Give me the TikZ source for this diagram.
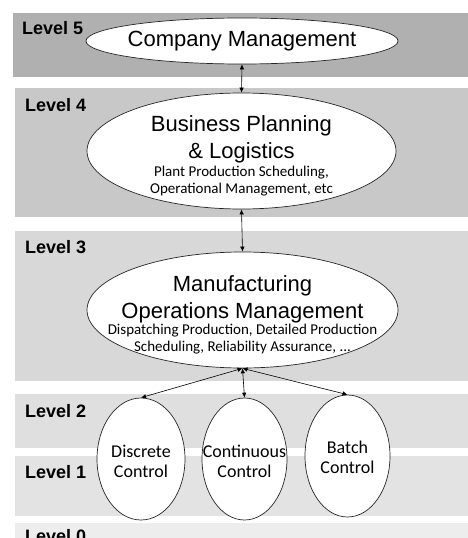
\documentclass[tikz,border=0pt]{standalone}
\usepackage{fontspec}
\setmainfont{Liberation Sans}
\newfontfamily\calfont{Carlito}
\usetikzlibrary{shapes.geometric,arrows.meta}
\definecolor{bandfive}{HTML}{B0B0B0}
\definecolor{bandfour}{HTML}{C8C8C8}
\definecolor{bandthree}{HTML}{D8D8D8}
\definecolor{bandtwo}{HTML}{DFDFDF}
\definecolor{bandone}{HTML}{E3E3E3}
\definecolor{bandzero}{HTML}{EDEDED}
\begin{document}
\begin{tikzpicture}[x=1pt,y=-1pt,
        level/.style={anchor=base west,inner sep=0pt,font=\fontsize{18}{20}\selectfont\bfseries},
        oval/.style={ellipse,draw=black!85,line width=0.7pt,fill=white,inner sep=0pt},
        title/.style={align=center,inner sep=0pt,font=\fontsize{22}{27}\selectfont},
        note/.style={align=center,inner sep=0pt,font=\calfont\fontsize{15}{16.5}\selectfont},
        ctrl/.style={align=center,inner sep=0pt,font=\calfont\fontsize{18}{20}\selectfont},
        link/.style={{Latex[length=5pt,width=4.5pt]}-{Latex[length=5pt,width=4.5pt]},line width=0.6pt}]
        \useasboundingbox (0,0) rectangle (468,538);
        \clip (0,0) rectangle (468,538);
        \fill[bandfive] (13,13) rectangle (468,77);
        \fill[bandfour] (15,88) rectangle (468,217);
        \fill[bandthree] (15,231) rectangle (468,381);
        \fill[bandtwo] (15,394) rectangle (468,448);
        \fill[bandone] (15,456) rectangle (468,516);
        \fill[bandzero] (15,523) rectangle (468,560);
        \node[level] (lvlfive) at (22,34) {Level 5};
        \node[level] (lvlfour) at (25,111) {Level 4};
        \node[level] (lvlthree) at (25,253) {Level 3};
        \node[level] (lvltwo) at (25,417) {Level 2};
        \node[level] (lvlone) at (25,478) {Level 1};
        \node[level] (lvlzero) at (25,542) {Level 0};
        \node[oval,minimum width=312pt,minimum height=46pt] (company) at (242,41) {};
        \node[oval,minimum width=309pt,minimum height=116pt] (business) at (241.5,151) {};
        \node[oval,minimum width=311pt,minimum height=116pt] (mom) at (242.5,310) {};
        \node[oval,minimum width=88pt,minimum height=122pt] (discrete) at (141,459) {};
        \node[oval,minimum width=85pt,minimum height=122pt] (continuous) at (244.5,459) {};
        \node[oval,minimum width=85pt,minimum height=122pt] (batch) at (347.5,456) {};
        \node[title] (companytxt) at (242,41) {Company Management};
        \node[title] (businesstxt) at (241.5,139.3) {Business Planning\\ \& Logistics};
        \node[note] (businessnote) at (241.5,181.2) {Plant Production Scheduling,\\ Operational Management, etc};
        \node[title] (momtxt) at (242.5,299.3) {Manufacturing\\ Operations Management};
        \node[note] (momnote) at (242.5,339) {Dispatching Production, Detailed Production\\ Scheduling, Reliability Assurance, ...};
        \node[ctrl] (discretetxt) at (141,460.9) {Discrete\\ Control};
        \node[ctrl] (continuoustxt) at (244.5,460.9) {Continuous\\ Control};
        \node[ctrl] (batchtxt) at (347.5,457.8) {Batch\\ Control};
        \draw[link] (company.south) -- (business.north);
        \draw[link] (business.south) -- (mom.north);
        \draw[link] (mom.south) -- (discrete.north);
        \draw[link] (mom.south) -- (continuous.north);
        \draw[link] (mom.south) -- (batch.north);
\end{tikzpicture}
\end{document}
